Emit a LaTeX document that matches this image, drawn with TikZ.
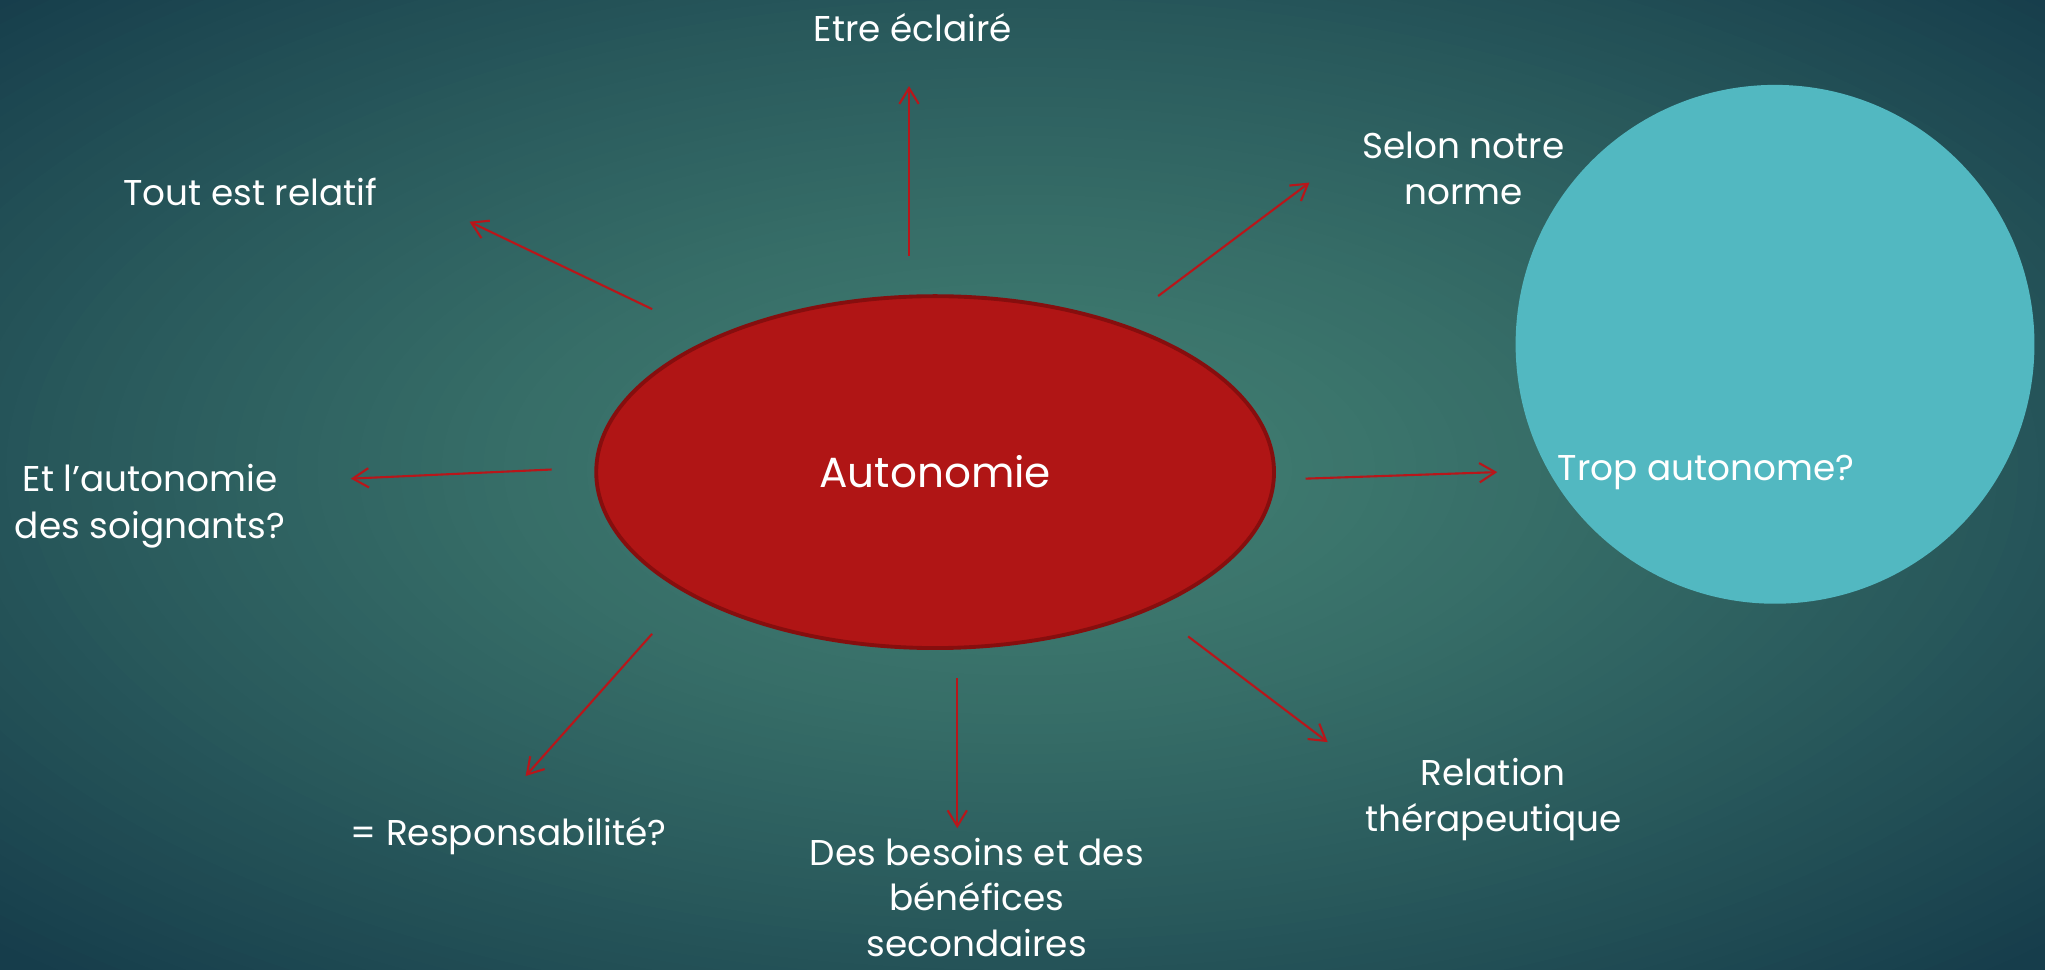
\documentclass[tikz,border=0pt]{standalone}
\usepackage{fontspec}
\setmainfont{Poppins}
\usetikzlibrary{shapes.geometric,arrows.meta}

\definecolor{bgin}{RGB}{66,127,114}
\definecolor{bgout}{RGB}{22,61,75}
\definecolor{autored}{HTML}{B01515}
\definecolor{autoedge}{HTML}{860E0E}
\definecolor{spokered}{HTML}{B8161A}
\definecolor{tropblue}{HTML}{52B8C1}

\begin{document}
\begin{tikzpicture}[x=0.01304cm, y=-0.01304cm,
    every node/.style={text=white, font=\fontsize{10.2}{13.2}\selectfont, align=center},
    spoke/.style={draw=spokered, line width=0.6pt, -{Straight Barb[length=4.5pt, width=5.5pt]}}]
    \useasboundingbox (0,0) rectangle (1568,743);
    % background glow
    \begin{scope}
        \clip (0,0) rectangle (1568,743);
        \fill[bgout] (-5,-5) rectangle (1573,748);
        \foreach \i in {70,69,...,1} {
            \pgfmathsetmacro\r{1.42*\i/70}
            \pgfmathsetmacro\p{100*(1-(\r/1.42)^1.3)}
            \fill[bgin!\p!bgout] (784,360) ellipse [x radius=784*\r, y radius=371*\r];
        }
    \end{scope}

    \draw (1361,264) node[circle, fill=tropblue, minimum size=5.19cm, inner sep=0] (disc) {};
    \draw (717,362) node[ellipse, fill=autored, draw=autoedge, line width=1.1pt, minimum width=6.78cm, minimum height=3.52cm, inner sep=0, font=\fontsize{12}{14}\selectfont] (auto) {Autonomie};

    \draw (700,21) node (eclaire) {Etre éclairé};
    \draw (1122,129) node (norme) {Selon notre\\norme};
    \draw (1308,362) node (trop) {Trop autonome?};
    \draw (1145,613) node (relation) {Relation\\thérapeutique};
    \draw (749,688) node[inner sep=1pt, font=\fontsize{10.2}{12.9}\selectfont] (besoins) {Des besoins et des\\bénéfices\\secondaires};
    \draw (390,641) node (respons) {= Responsabilité?};
    \draw (115,388) node (soignants) {Et l’autonomie\\des soignants?};
    \draw (192,147) node (relatif) {Tout est relatif};

    \coordinate (eclaireS) at (697,196);  \coordinate (eclaireE) at (697,66);
    \coordinate (normeS) at (888,227);    \coordinate (normeE) at (1004,140);
    \coordinate (tropS) at (1001,367);    \coordinate (tropE) at (1148,362);
    \coordinate (relationS) at (911,488); \coordinate (relationE) at (1018,569);
    \coordinate (besoinsS) at (734,520);  \coordinate (besoinsE) at (734,635);
    \coordinate (responsS) at (500,486);  \coordinate (responsE) at (403,595);
    \coordinate (soignantsS) at (423,360); \coordinate (soignantsE) at (269,367);
    \coordinate (relatifS) at (500,237);  \coordinate (relatifE) at (360,170);

    \draw[spoke] (eclaireS) -- (eclaireE);
    \draw[spoke] (normeS) -- (normeE);
    \draw[spoke] (tropS) -- (tropE);
    \draw[spoke] (relationS) -- (relationE);
    \draw[spoke] (besoinsS) -- (besoinsE);
    \draw[spoke] (responsS) -- (responsE);
    \draw[spoke] (soignantsS) -- (soignantsE);
    \draw[spoke] (relatifS) -- (relatifE);
\end{tikzpicture}
\end{document}
